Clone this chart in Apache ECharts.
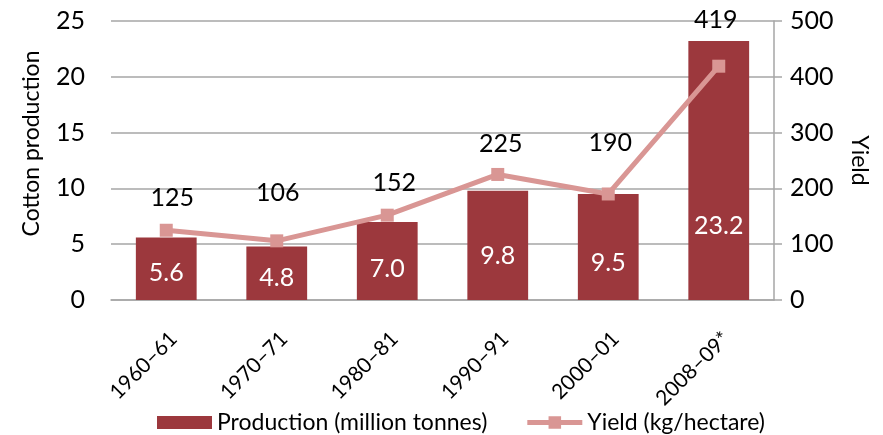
<!DOCTYPE html>
<html>
<head>
<meta charset="utf-8">
<title>Cotton production and yield</title>
<script src="https://cdn.jsdelivr.net/npm/echarts@6/dist/echarts.min.js"></script>
<style>
    html, body { margin: 0; padding: 0; background: #fff; }
    #chart { width: 883px; height: 435px; }
</style>
</head>
<body>
<div id="chart"></div>
<script>
var seasons = ['1960–61', '1970–71', '1980–81', '1990–91', '2000–01', '2008–09*'];
var production = [5.6, 4.8, 7.0, 9.8, 9.5, 23.2];
var yieldKg = [125, 106, 152, 225, 190, 419];
var prodTicks = [0, 25, 5];
var yieldTicks = [0, 500, 100];

// label nudges
var barLabelLift = [15, 10, 19, 32, 25, 62];
var lineLabelShift = [[6, -32], [1, -48], [7, -32], [3, -31], [2, -51], [-3, -46]];

var FONT = 'Lato';
var GRID_COLOR = '#a6a6a6';
var BAR_COLOR = '#9c383d';
var LINE_COLOR = '#d99694';
// thick line with a square in the middle, like the legend key of the original
var LINE_KEY = 'path://M0,4H22V0H35V4H57V9H35V13H22V9H0Z';

var chart = echarts.init(document.getElementById('chart'));

var barData = production.map(function(v, i) {
    return {
        value: v,
        label: { distance: barLabelLift[i] }
    };
});

var lineData = yieldKg.map(function(v, i) {
    return {
        value: v,
        label: { offset: lineLabelShift[i] }
    };
});

var option = {
    animation: false,
    textStyle: { fontFamily: FONT },
    grid: { left: 111, right: 109, top: 21, bottom: 135 },
    legend: {
        left: 152,
        top: 406,
        itemWidth: 55,
        itemHeight: 13,
        itemGap: 40,
        textStyle: { fontFamily: FONT, fontSize: 23, color: '#000' },
        data: [
            { name: 'Production (million tonnes)', icon: 'rect' },
            { name: 'Yield (kg/hectare)', icon: LINE_KEY }
        ]
    },
    xAxis: {
        type: 'category',
        data: seasons,
        axisLine: { lineStyle: { color: GRID_COLOR, width: 1.5 } },
        axisTick: { show: false },
        axisLabel: {
            rotate: 45,
            margin: 28,
            verticalAlign: 'top',
            interval: 0,
            color: '#000',
            fontFamily: FONT,
            fontSize: 21
        }
    },
    yAxis: [
        {
            type: 'value',
            min: prodTicks[0],
            max: prodTicks[1],
            interval: prodTicks[2],
            name: 'Cotton production',
            nameLocation: 'middle',
            nameGap: 68,
            nameTextStyle: { fontFamily: FONT, fontSize: 23, color: '#000', padding: [0, 0, 0, 34] },
            axisLine: { show: false },
            axisTick: { show: false },
            axisLabel: { margin: 26, color: '#000', fontFamily: FONT, fontSize: 25 },
            splitLine: { lineStyle: { color: GRID_COLOR, width: 1.5 } }
        },
        {
            type: 'value',
            min: yieldTicks[0],
            max: yieldTicks[1],
            interval: yieldTicks[2],
            name: 'Yield',
            nameLocation: 'middle',
            nameRotate: -90,
            nameGap: 74,
            nameTextStyle: { fontFamily: FONT, fontSize: 23, color: '#000' },
            axisLine: { show: true, lineStyle: { color: GRID_COLOR, width: 1.5 } },
            axisTick: { show: true, length: 8, lineStyle: { color: GRID_COLOR, width: 1.5 } },
            axisLabel: { margin: 16, color: '#000', fontFamily: FONT, fontSize: 25 },
            splitLine: { show: false }
        }
    ],
    series: [
        {
            name: 'Production (million tonnes)',
            type: 'bar',
            barWidth: '55%',
            itemStyle: { color: BAR_COLOR },
            label: {
                show: true,
                position: 'insideBottom',
                color: '#fff',
                fontFamily: FONT,
                fontSize: 25,
                formatter: function(p) { return p.value.toFixed(1); }
            },
            data: barData
        },
        {
            name: 'Yield (kg/hectare)',
            type: 'line',
            yAxisIndex: 1,
            symbol: 'rect',
            symbolSize: 13,
            lineStyle: { color: LINE_COLOR, width: 5 },
            itemStyle: { color: LINE_COLOR },
            label: {
                show: true,
                position: 'inside',
                color: '#000',
                fontFamily: FONT,
                fontSize: 25
            },
            z: 3,
            data: lineData
        }
    ]
};

chart.setOption(option);
</script>
</body>
</html>
